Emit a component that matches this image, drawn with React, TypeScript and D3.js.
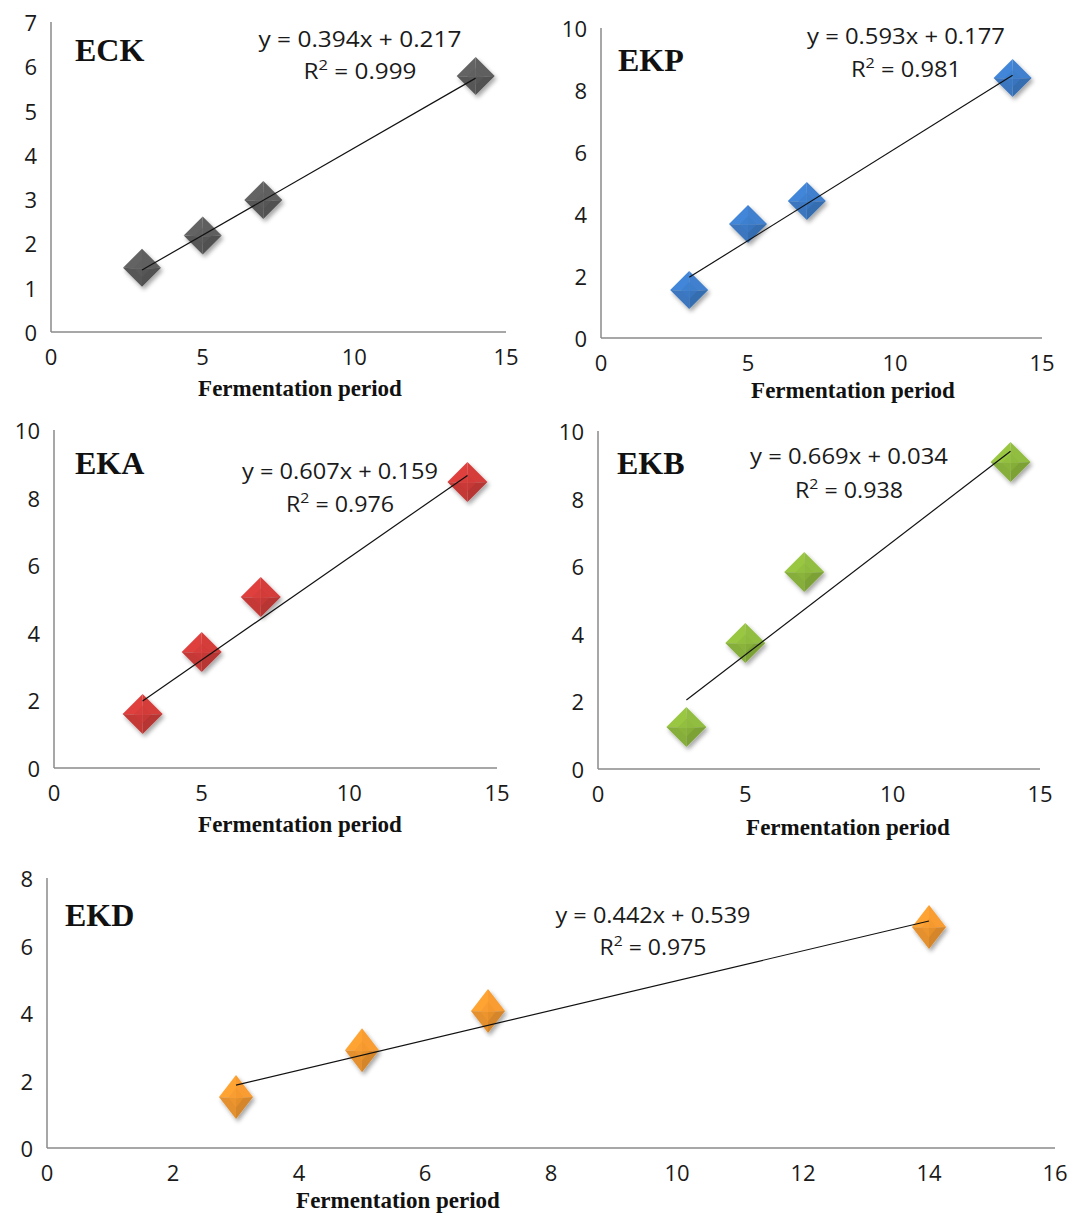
import React from "react";
import * as d3 from "d3";

// ---------------- DATA ----------------
const periods = [3, 5, 7, 14];
const eckValues = [1.45, 2.18, 2.98, 5.78];
const ekpValues = [1.55, 3.68, 4.42, 8.39];
const ekaValues = [1.6, 3.43, 5.06, 8.46];
const ekbValues = [1.24, 3.73, 5.83, 9.08];
const ekdValues = [1.51, 2.9, 4.06, 6.55];
const panelNames = ["ECK", "EKP", "EKA", "EKB", "EKD"];
const slopes = [0.394, 0.593, 0.607, 0.669, 0.442];
const intercepts = [0.217, 0.177, 0.159, 0.034, 0.539];
const rSquared = ["0.999", "0.981", "0.976", "0.938", "0.975"];
const xTicks15 = [0, 5, 10, 15];
const xTicks16 = [0, 2, 4, 6, 8, 10, 12, 14, 16];
const yTicks7 = [0, 1, 2, 3, 4, 5, 6, 7];
const yTicks10 = [0, 2, 4, 6, 8, 10];
const yTicks8 = [0, 2, 4, 6, 8];
const xAxisTitle = "Fermentation period";

const seriesValues = [eckValues, ekpValues, ekaValues, ekbValues, ekdValues];

// ---------------- LAYOUT / STYLE ----------------
const layouts = [
  { x0: 51, x1: 506, yTop: 22, yBot: 332, xMax: 15, yMax: 7, xt: xTicks15, yt: yTicks7, color: "#5c5c5c",
    nameX: 75, nameY: 50, eqX: 360, eqY: 38, eqW: 203, r2Y: 70, r2W: 113, tX: 300, tY: 388, mw: 19, mh: 19 },
  { x0: 601, x1: 1042, yTop: 28, yBot: 338, xMax: 15, yMax: 10, xt: xTicks15, yt: yTicks10, color: "#3d7cc9",
    nameX: 618, nameY: 60, eqX: 906, eqY: 35, eqW: 198, r2Y: 68, r2W: 110, tX: 853, tY: 390, mw: 19, mh: 19 },
  { x0: 54, x1: 497, yTop: 430, yBot: 768, xMax: 15, yMax: 10, xt: xTicks15, yt: yTicks10, color: "#cf3b39",
    nameX: 75, nameY: 463, eqX: 340, eqY: 470, eqW: 196, r2Y: 503, r2W: 108, tX: 300, tY: 824, mw: 20, mh: 20 },
  { x0: 598, x1: 1040, yTop: 431, yBot: 769, xMax: 15, yMax: 10, xt: xTicks15, yt: yTicks10, color: "#8db83d",
    nameX: 617, nameY: 463, eqX: 849, eqY: 455, eqW: 198, r2Y: 489, r2W: 108, tX: 848, tY: 827, mw: 20, mh: 20 },
  { x0: 47, x1: 1055, yTop: 878, yBot: 1148, xMax: 16, yMax: 8, xt: xTicks16, yt: yTicks8, color: "#f2982f",
    nameX: 65, nameY: 915, eqX: 653, eqY: 914, eqW: 195, r2Y: 946, r2W: 107, tX: 398, tY: 1200, mw: 17, mh: 22 },
];

const tickFont = "'Open Sans', Lato, sans-serif";
const serifFont = "'Liberation Serif', 'Times New Roman', serif";

function Diamond({ cx, cy, w, h, color }: { cx: number; cy: number; w: number; h: number; color: string }) {
  const base = d3.color(color)!;
  const light = base.brighter(0.22).formatHex();
  const mid = base.brighter(0.08).formatHex();
  const dark = base.darker(0.15).formatHex();
  const darker = base.darker(0.35).formatHex();
  const L = `${-w},0`, T = `0,${-h}`, R = `${w},0`, B = `0,${h}`, C = `0,${h * 0.05}`;
  return (
    <g transform={`translate(${cx},${cy})`} filter="url(#shadow)">
      <polygon points={`${C} ${L} ${T}`} fill={light} />
      <polygon points={`${C} ${T} ${R}`} fill={mid} />
      <polygon points={`${C} ${R} ${B}`} fill={darker} />
      <polygon points={`${C} ${B} ${L}`} fill={dark} />
      <polygon points={`${-w * 0.45},${h * 0.03} 0,${-h * 0.42} ${w * 0.45},${h * 0.03} 0,${h * 0.48}`} fill={base.formatHex()} opacity={0.55} />
    </g>
  );
}

function Panel({ i }: { i: number }) {
  const lay = layouts[i];
  const x = d3.scaleLinear().domain([0, lay.xMax]).range([lay.x0, lay.x1]);
  const y = d3.scaleLinear().domain([0, lay.yMax]).range([lay.yBot, lay.yTop]);
  const vals = seriesValues[i];
  const xs = d3.extent(periods) as [number, number];
  const trend = d3.line<number>()
    .x((d) => x(d))
    .y((d) => y(slopes[i] * d + intercepts[i]));
  return (
    <g>
      {/* axes */}
      <line x1={lay.x0} x2={lay.x0} y1={lay.yTop} y2={lay.yBot} stroke="#8a8a8a" strokeWidth={1.5} />
      <line x1={lay.x0} x2={lay.x1} y1={lay.yBot} y2={lay.yBot} stroke="#8a8a8a" strokeWidth={1.5} />
      {lay.yt.map((t) => (
        <text key={"y" + t} x={lay.x0 - 14} y={y(t)} textAnchor="end" dominantBaseline="central"
          fontFamily={tickFont} fontSize={22} fill="#1a1a1a">{t}</text>
      ))}
      {lay.xt.map((t) => (
        <text key={"x" + t} x={x(t)} y={lay.yBot + 24} textAnchor="middle" dominantBaseline="central"
          fontFamily={tickFont} fontSize={22} fill="#1a1a1a">{t}</text>
      ))}
      <text x={lay.tX} y={lay.tY} textAnchor="middle" dominantBaseline="central" fontFamily={serifFont}
        fontWeight="bold" fontSize={23} fill="#111">{xAxisTitle}</text>
      <text x={lay.nameX} y={lay.nameY} dominantBaseline="central" fontFamily={serifFont}
        fontWeight="bold" fontSize={32} fill="#111">{panelNames[i]}</text>
      {/* markers */}
      {periods.map((p, j) => (
        <Diamond key={j} cx={x(p)} cy={y(vals[j])} w={lay.mw} h={lay.mh} color={lay.color} />
      ))}
      {/* trendline */}
      <path d={trend(xs) || ""} stroke="#111" strokeWidth={1.2} fill="none" />
      {/* equation */}
      <text x={lay.eqX} y={lay.eqY} textAnchor="middle" dominantBaseline="central" fontFamily={tickFont}
        fontSize={22} fill="#1a1a1a" textLength={lay.eqW} lengthAdjust="spacingAndGlyphs">
        {`y = ${slopes[i].toFixed(3)}x + ${intercepts[i].toFixed(3)}`}
      </text>
      <text x={lay.eqX} y={lay.r2Y} textAnchor="middle" dominantBaseline="central" fontFamily={tickFont}
        fontSize={22} fill="#1a1a1a" textLength={lay.r2W} lengthAdjust="spacingAndGlyphs">
        <tspan>R</tspan>
        <tspan dy={-6} fontSize={15}>2</tspan>
        <tspan dy={6}>{` = ${rSquared[i]}`}</tspan>
      </text>
    </g>
  );
}

export default function App() {
  return (
    <svg width={1070} height={1214} style={{ position: "absolute", left: 0, top: 0, background: "#fff" }}>
      <defs>
        <filter id="shadow" x="-50%" y="-50%" width="200%" height="200%">
          <feDropShadow dx={2} dy={3} stdDeviation={2.2} floodColor="#000" floodOpacity={0.35} />
        </filter>
      </defs>
      <rect width={1070} height={1214} fill="#fff" />
      {panelNames.map((_, i) => (
        <Panel key={i} i={i} />
      ))}
    </svg>
  );
}
